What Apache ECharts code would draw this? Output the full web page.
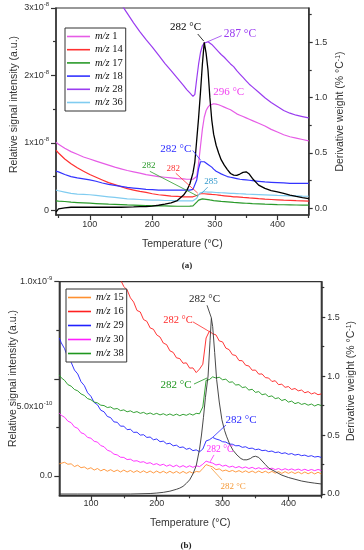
<!DOCTYPE html>
<html><head><meta charset="utf-8">
<script src="https://cdn.jsdelivr.net/npm/echarts@6/dist/echarts.min.js"></script>
<style>html,body{margin:0;padding:0;background:#fff}#c{width:364px;height:550px}</style>
</head><body><div id="c"></div><script>
// ---------- panel (a): ion currents in units of 1e-8, DTG in % per °C ----------
const tempA = [46,50,60,70,80,90,100,110,120,130,140,150,160,170,180,190,200,210,220,230,240,250,255,260,265,268,271,274,277,280,283,286,289,292,295,298,302,306,310,315,320,325,330,335,340,345,350,355,360,370,380,390,400,410,420,430,440,450];
const mz1  = [1.01,0.98,0.92,0.87,0.83,0.79,0.76,0.73,0.70,0.67,0.64,0.615,0.59,0.57,0.55,0.53,0.515,0.50,0.49,0.48,0.47,0.465,0.46,0.46,0.46,0.46,0.50,0.70,0.95,1.20,1.38,1.48,1.53,1.56,1.575,1.58,1.575,1.565,1.55,1.53,1.51,1.49,1.46,1.43,1.41,1.39,1.37,1.35,1.33,1.29,1.25,1.20,1.16,1.12,1.09,1.07,1.05,1.03];
const mz14 = [0.89,0.85,0.76,0.69,0.63,0.58,0.53,0.49,0.45,0.41,0.38,0.35,0.32,0.30,0.28,0.265,0.245,0.23,0.22,0.21,0.205,0.20,0.20,0.20,0.20,0.205,0.22,0.24,0.245,0.245,0.245,0.24,0.24,0.235,0.235,0.23,0.23,0.225,0.22,0.215,0.21,0.205,0.20,0.198,0.195,0.19,0.187,0.183,0.18,0.172,0.165,0.16,0.155,0.15,0.147,0.143,0.14,0.137];
const mz17 = [0.14,0.135,0.13,0.12,0.115,0.11,0.105,0.10,0.095,0.09,0.088,0.085,0.08,0.077,0.074,0.07,0.068,0.066,0.064,0.062,0.06,0.06,0.06,0.062,0.065,0.075,0.12,0.15,0.165,0.17,0.168,0.163,0.158,0.153,0.148,0.144,0.14,0.136,0.132,0.128,0.124,0.12,0.116,0.113,0.11,0.107,0.104,0.101,0.098,0.094,0.09,0.087,0.084,0.082,0.08,0.078,0.077,0.076];
const mz18 = [0.58,0.57,0.53,0.50,0.48,0.465,0.45,0.43,0.405,0.385,0.37,0.355,0.34,0.33,0.32,0.31,0.305,0.30,0.30,0.30,0.30,0.30,0.30,0.30,0.31,0.33,0.45,0.62,0.72,0.74,0.72,0.70,0.68,0.66,0.64,0.61,0.58,0.56,0.54,0.52,0.50,0.49,0.48,0.47,0.46,0.455,0.45,0.445,0.44,0.43,0.42,0.415,0.41,0.405,0.40,0.40,0.40,0.40];
const mz28 = [6.0,5.7,5.1,4.6,4.25,3.95,3.75,3.6,3.48,3.35,3.2,3.06,2.92,2.78,2.65,2.53,2.42,2.30,2.18,2.07,1.96,1.85,1.79,1.74,1.69,1.72,1.95,2.17,2.34,2.44,2.48,2.50,2.50,2.48,2.46,2.43,2.39,2.35,2.31,2.27,2.22,2.17,2.13,2.07,2.02,1.97,1.92,1.87,1.83,1.75,1.67,1.60,1.54,1.48,1.44,1.41,1.39,1.37];
const mz36 = [0.30,0.29,0.27,0.25,0.24,0.235,0.23,0.22,0.21,0.20,0.19,0.18,0.17,0.165,0.16,0.155,0.15,0.15,0.145,0.145,0.14,0.14,0.14,0.14,0.14,0.145,0.18,0.23,0.26,0.27,0.275,0.275,0.27,0.27,0.268,0.266,0.264,0.262,0.26,0.258,0.255,0.252,0.25,0.248,0.245,0.243,0.24,0.238,0.236,0.232,0.228,0.224,0.22,0.218,0.215,0.213,0.21,0.208];
const dtgA = [-0.035,-0.005,0.005,0.01,0.01,0.01,0.01,0.01,0.01,0.01,0.01,0.01,0.012,0.013,0.015,0.017,0.02,0.028,0.038,0.05,0.07,0.12,0.16,0.22,0.32,0.42,0.62,0.82,1.05,1.30,1.50,1.40,1.25,1.00,0.80,0.67,0.57,0.50,0.44,0.39,0.35,0.315,0.30,0.298,0.31,0.325,0.33,0.31,0.27,0.21,0.18,0.16,0.148,0.135,0.12,0.108,0.097,0.088];

// ---------- panel (b): ion currents in units of 1e-10, DTG in % per °C ----------
const tempB = [52,55,60,65,70,75,80,85,90,95,100,105,110,115,120,125,130,135,140,145,150,155,160,165,170,175,180,185,190,195,200,205,210,215,220,225,230,235,240,245,250,255,260,265,270,275,280,285,290,295,300,305,310,315,320,325,330,335,340,345,350,355,360,365,370,375,380,385,390,395,400,405,410,415,420,425,430,435,440,445,450];
const mz15 = [0.62,0.58,0.70,0.60,0.62,0.48,0.55,0.42,0.46,0.35,0.42,0.30,0.38,0.26,0.34,0.24,0.32,0.22,0.30,0.20,0.30,0.20,0.28,0.18,0.27,0.17,0.26,0.16,0.25,0.15,0.25,0.15,0.24,0.14,0.24,0.14,0.23,0.13,0.23,0.13,0.22,0.14,0.23,0.20,0.38,0.58,0.52,0.46,0.32,0.36,0.25,0.30,0.22,0.28,0.20,0.27,0.18,0.26,0.17,0.25,0.16,0.25,0.16,0.24,0.15,0.23,0.14,0.22,0.13,0.22,0.13,0.21,0.12,0.20,0.11,0.20,0.11,0.19,0.10,0.19,0.10];
const mz16 = [17.5,17.0,16.3,15.7,15.1,14.6,14.1,13.6,13.2,12.8,12.4,12.1,11.8,11.5,11.5,11.2,10.95,10.7,10.4,10.1,9.75,9.58,9.17,8.95,8.52,8.44,8.05,7.96,7.62,7.55,7.26,7.15,6.84,6.76,6.44,6.36,6.08,6.04,5.80,5.82,5.55,5.56,5.32,5.50,5.75,7.10,7.45,7.32,7.26,6.95,6.90,6.58,6.50,6.24,6.20,5.94,5.93,5.70,5.66,5.44,5.45,5.24,5.25,5.06,5.04,4.86,4.90,4.70,4.72,4.56,4.60,4.45,4.50,4.38,4.42,4.28,4.34,4.22,4.28,4.18,4.22];
const mz29 = [7.10,6.85,6.55,6.10,5.85,5.45,5.25,4.85,4.65,4.28,4.10,3.78,3.66,3.38,3.30,3.06,3.00,2.78,2.76,2.56,2.56,2.38,2.40,2.24,2.25,2.10,2.12,1.98,2.00,1.86,1.90,1.76,1.79,1.65,1.68,1.55,1.58,1.46,1.49,1.37,1.42,1.30,1.34,1.24,1.38,1.80,1.86,1.98,1.90,1.85,1.76,1.74,1.64,1.63,1.55,1.56,1.47,1.50,1.41,1.43,1.35,1.38,1.30,1.32,1.25,1.28,1.20,1.23,1.15,1.19,1.11,1.15,1.07,1.11,1.04,1.07,1.00,1.04,0.97,1.00,0.95];
const mz30 = [3.23,3.12,3.02,2.82,2.74,2.52,2.45,2.22,2.16,1.98,1.94,1.78,1.74,1.56,1.50,1.32,1.26,1.12,1.08,0.96,0.95,0.84,0.86,0.76,0.78,0.70,0.73,0.64,0.68,0.58,0.63,0.54,0.60,0.50,0.57,0.47,0.55,0.45,0.53,0.44,0.52,0.44,0.52,0.48,0.60,0.76,0.70,0.66,0.56,0.60,0.50,0.55,0.45,0.50,0.42,0.48,0.40,0.46,0.38,0.44,0.36,0.42,0.35,0.41,0.33,0.40,0.32,0.38,0.30,0.37,0.30,0.36,0.29,0.35,0.28,0.34,0.27,0.33,0.27,0.33,0.28];
const mz38 = [5.20,5.05,4.92,4.70,4.62,4.45,4.38,4.22,4.14,3.98,3.92,3.80,3.76,3.64,3.62,3.52,3.55,3.44,3.47,3.36,3.40,3.30,3.35,3.26,3.31,3.22,3.27,3.18,3.24,3.16,3.22,3.14,3.20,3.12,3.19,3.11,3.18,3.10,3.17,3.12,3.20,3.13,3.22,3.20,3.55,4.92,4.96,5.10,5.04,5.08,4.95,4.98,4.82,4.84,4.68,4.70,4.55,4.58,4.42,4.46,4.30,4.34,4.18,4.22,4.08,4.12,3.98,4.02,3.88,3.94,3.80,3.85,3.72,3.78,3.68,3.73,3.64,3.70,3.60,3.68,3.62];
const dtgTempB = [52,80,120,160,190,200,210,220,230,235,240,245,250,255,260,265,268,271,274,278,281,283,285,288,291,295,299,303,306,311,316,322,328,332,337,342,346,350,355,360,365,370,380,390,400,410,420,430,440,450];
const dtgB = [0,0,0,0,0.004,0.008,0.014,0.024,0.04,0.05,0.065,0.09,0.12,0.17,0.24,0.38,0.50,0.65,0.82,1.00,1.30,1.49,1.42,1.20,0.97,0.78,0.63,0.54,0.49,0.42,0.37,0.33,0.30,0.29,0.29,0.30,0.315,0.32,0.31,0.28,0.25,0.22,0.19,0.16,0.14,0.125,0.11,0.10,0.092,0.085];

// ---------- ticks and tick labels ----------
const xMajor = [100,200,300,400];
const xMinorA = [50,150,250,350,450];
const xMinorB = [150,250,350,450];
const yLeftMajorA = [0,1,2,3];
const yLeftMinorA = [0.5,1.5,2.5];
const yLeftLabelsA = ['0','1x10{s|-8}','2x10{s|-8}','3x10{s|-8}'];
const yLeftMajorB = [0,5,10];
const yLeftMinorB = [2.5,7.5];
// the 5.0x10^-10 label sits below its tick in the original figure
const yLeftLabelsB = ['0.0','{g| }\n5.0x10{s|-10}','1.0x10{s|-9}'];
const yRightMajor = [0,0.5,1.0,1.5];
const yRightMinor = [0.25,0.75,1.25,1.75];

// ---------- annotations: text position and arrow from/to in data units ----------
const notesA = [
  {s:'dtgA', text:'282 °C', color:'#000000', size:11, at:[253,1.64], from:[272.6,1.575], to:[282.2,1.511]},
  {s:'m/z 28', text:'287 °C', color:'#9a3cf0', size:11.5, at:[340,2.61], from:[311,2.59], to:[288.5,2.50]},
  {s:'m/z 1', text:'296 °C', color:'#f040f0', size:11, at:[322,1.75]},
  {s:'m/z 18', text:'282 °C', color:'#2a2aff', size:11, at:[237.5,0.91], from:[264.6,0.887], to:[277.4,0.74]},
  {s:'m/z 17', text:'282', color:'#2a9a2a', size:9, at:[194.4,0.656], from:[196,0.578], to:[272.6,0.21]},
  {s:'m/z 14', text:'282', color:'#ff3030', size:9, at:[233.5,0.618], from:[237.5,0.549], to:[272.6,0.254]},
  {s:'m/z 36', text:'285', color:'#3399cc', size:9, at:[294,0.42], from:[288.5,0.343], to:[279,0.254]}
];
const notesB = [
  {s:'dtgB', text:'282 °C', color:'#222222', size:11, at:[272.6,1.65], from:[276.4,1.60], to:[283.2,1.49]},
  {s:'m/z 16', text:'282 °C', color:'#ff2a2a', size:10.5, at:[232.3,8.03], from:[255.1,7.93], to:[281,7.41]},
  {s:'m/z 38', text:'282 °C', color:'#1e961e', size:11, at:[229.3,4.68], from:[256.6,4.73], to:[276.4,5.04]},
  {s:'m/z 29', text:'282 °C', color:'#2a2aff', size:11, at:[328,2.88], from:[305.2,2.62], to:[285.5,2.0]},
  {s:'m/z 30', text:'282 °C', color:'#ff2aff', size:9.5, at:[296,1.34], from:[287,1.08], to:[281,0.72]},
  {s:'m/z 15', text:'282 °C', color:'#f59a3a', size:9, at:[316,-0.54], from:[299.2,-0.21], to:[282.5,0.41]}
];

const SANS = 'Liberation Sans', SERIF = 'Liberation Serif', AX = '#333333';
const pair = (t, v) => t.map((x, i) => [x, v[i]]);

function marks(key, notes) {
  const n = notes.filter(d => d.s === key);
  if (!n.length) return {};
  return {
    markPoint: {
      symbol: 'circle', symbolSize: 0, silent: true, animation: false,
      data: n.map(d => ({name: d.text, coord: d.at,
        label: {show: true, position: 'inside', formatter: d.text, color: d.color, fontSize: d.size, fontFamily: SERIF}}))
    },
    markLine: {
      symbol: ['none', 'arrow'], symbolSize: [0, 5], silent: true, animation: false,
      label: {show: false}, lineStyle: {type: 'solid', width: 0.8},
      data: n.filter(d => d.from).map(d => [
        {coord: d.from, lineStyle: {color: d.color, type: 'solid', width: 0.8}, itemStyle: {color: d.color}},
        {coord: d.to, lineStyle: {color: d.color}, itemStyle: {color: d.color}}])
    }
  };
}

function ion(name, t, v, color, xi, yi, width, notes) {
  return Object.assign({
    name, type: 'line', xAxisIndex: xi, yAxisIndex: yi, data: pair(t, v),
    symbol: 'none', showSymbol: false, clip: true,
    lineStyle: {color, width}, itemStyle: {color}, emphasis: {disabled: true}
  }, marks(name, notes));
}

const tickStyle = {color: AX, width: 1.2};
function xMain(grid, min, max, gap, margin) {
  return {gridIndex: grid, type: 'value', min, max, position: 'bottom',
    axisLine: {show: true, onZero: false, lineStyle: {color: AX, width: 1.5}},
    axisTick: {show: true, length: 5, customValues: xMajor, lineStyle: tickStyle},
    axisLabel: {customValues: xMajor, fontSize: 9, margin, color: AX, fontFamily: SANS},
    splitLine: {show: false},
    name: 'Temperature (°C)', nameLocation: 'middle', nameGap: gap, nameMoveOverlap: false,
    nameTextStyle: {fontSize: 10.5, fontFamily: SANS, color: AX}};
}
function xMinor(grid, min, max, vals) {
  return {gridIndex: grid, type: 'value', min, max, position: 'bottom',
    axisLine: {show: false, onZero: false}, axisTick: {show: true, length: 3, customValues: vals, lineStyle: tickStyle},
    axisLabel: {show: false}, splitLine: {show: false}};
}
function yLeft(grid, min, max, major, labels, name, gap, shift) {
  return {gridIndex: grid, type: 'value', min, max, position: 'left',
    axisLine: {show: true, onZero: false, lineStyle: {color: AX, width: 1.5}},
    axisTick: {show: true, length: 5, customValues: major, lineStyle: tickStyle},
    axisLabel: {customValues: major, fontSize: 9, lineHeight: 13, margin: 7, color: AX, fontFamily: SANS,
      formatter: v => labels[major.indexOf(v)] || '',
      rich: {s: {fontSize: 6, lineHeight: 6, verticalAlign: 'top', fontFamily: SANS, color: AX},
             g: {fontSize: 6, lineHeight: 56, height: 56}}},
    splitLine: {show: false},
    name, nameLocation: 'middle', nameGap: gap, nameRotate: 90, nameMoveOverlap: false,
    nameTextStyle: {fontSize: 10.5, fontFamily: SANS, color: AX, padding: [0, 0, 0, shift]}};
}
function yRight(grid, min, max, gap, shift) {
  return {gridIndex: grid, type: 'value', min, max, position: 'right',
    axisLine: {show: true, onZero: false, lineStyle: {color: AX, width: 1.5}},
    axisTick: {show: true, length: 4, customValues: yRightMajor, lineStyle: tickStyle},
    axisLabel: {customValues: yRightMajor, fontSize: 9, margin: 6, color: AX, fontFamily: SANS,
      formatter: v => v.toFixed(1)},
    splitLine: {show: false},
    name: 'Derivative weight (% °C{s|-1})', nameLocation: 'middle', nameGap: gap, nameRotate: 90, nameMoveOverlap: false,
    nameTextStyle: {fontSize: 10.5, fontFamily: SANS, color: AX, padding: [0, 0, 0, shift],
      rich: {s: {fontSize: 7, lineHeight: 7, verticalAlign: 'top', fontFamily: SANS, color: AX}}}};
}
function yMinor(grid, min, max, pos, vals) {
  return {gridIndex: grid, type: 'value', min, max, position: pos,
    axisLine: {show: false, onZero: false}, axisTick: {show: true, length: 3, customValues: vals, lineStyle: tickStyle},
    axisLabel: {show: false}, splitLine: {show: false}};
}
function legend(left, top, names, itemH, gap) {
  return {data: names, orient: 'vertical', left, top, itemWidth: 23, itemHeight: itemH, itemGap: gap,
    padding: [3, 3, 3, 2], borderColor: '#333', borderWidth: 1, backgroundColor: '#fff',
    selectedMode: false, icon: 'path://M0,5 L23,5 L23,6.6 L0,6.6 Z',
    formatter: n => '{i|m/z} ' + n.split(' ')[1],
    textStyle: {fontSize: 10.5, fontFamily: SERIF, color: '#111',
      rich: {i: {fontStyle: 'italic', fontSize: 10.5, fontFamily: SERIF, color: '#111'}}}};
}

const namesA = ['m/z 1','m/z 14','m/z 17','m/z 18','m/z 28','m/z 36'];
const namesB = ['m/z 15','m/z 16','m/z 29','m/z 30','m/z 38'];

const option = {
  animation: false,
  backgroundColor: '#fff',
  title: [
    {text: '(a)', left: 182, top: 256, textAlign: 'center', textStyle: {fontSize: 9, fontWeight: 'bold', fontFamily: SERIF, color: '#222'}},
    {text: '(b)', left: 181, top: 536, textAlign: 'center', textStyle: {fontSize: 9, fontWeight: 'bold', fontFamily: SERIF, color: '#222'}}
  ],
  grid: [
    {left: 56, top: 8, width: 252.7, height: 207, show: true, borderColor: AX, borderWidth: 1.2, outerBoundsMode: 'none', containLabel: false},
    {left: 59.3, top: 281.7, width: 262, height: 213.6, show: true, borderColor: AX, borderWidth: 1.2, outerBoundsMode: 'none', containLabel: false}
  ],
  legend: [legend(65, 28, namesA, 11, 2.2), legend(66, 289, namesB, 12, 3)],
  xAxis: [xMain(0, 46, 450, 24, 5), xMinor(0, 46, 450, xMinorA), xMain(1, 52, 450, 22, 4), xMinor(1, 52, 450, xMinorB)],
  yAxis: [
    yLeft(0, -0.07, 3, yLeftMajorA, yLeftLabelsA, 'Relative signal intensity (a.u.)', 36, 14),
    yRight(0, -0.06, 1.81, 26, 0),
    yMinor(0, -0.07, 3, 'left', yLeftMinorA),
    yMinor(0, -0.06, 1.81, 'right', yRightMinor),
    yLeft(1, -1.0, 10, yLeftMajorB, yLeftLabelsB, 'Relative signal intensity (a.u.)', 41, 20),
    yRight(1, -0.011, 1.80, 24, 15),
    yMinor(1, -1.0, 10, 'left', yLeftMinorB),
    yMinor(1, -0.011, 1.80, 'right', yRightMinor)
  ],
  series: [
    ion('m/z 1', tempA, mz1, '#e65ce6', 0, 0, 1.2, notesA),
    ion('m/z 14', tempA, mz14, '#ff3030', 0, 0, 1.2, notesA),
    ion('m/z 17', tempA, mz17, '#2a9a2a', 0, 0, 1.2, notesA),
    ion('m/z 18', tempA, mz18, '#3333ff', 0, 0, 1.2, notesA),
    ion('m/z 28', tempA, mz28, '#9a3cf0', 0, 0, 1.2, notesA),
    ion('m/z 36', tempA, mz36, '#80ccf0', 0, 0, 1.2, notesA),
    ion('dtgA', tempA, dtgA, '#000000', 0, 1, 1.3, notesA),
    ion('m/z 15', tempB, mz15, '#ff9030', 2, 4, 0.9, notesB),
    ion('m/z 16', tempB, mz16, '#ff2020', 2, 4, 0.9, notesB),
    ion('m/z 29', tempB, mz29, '#2020ff', 2, 4, 0.9, notesB),
    ion('m/z 30', tempB, mz30, '#ff20ff', 2, 4, 0.9, notesB),
    ion('m/z 38', tempB, mz38, '#1e961e', 2, 4, 0.9, notesB),
    ion('dtgB', dtgTempB, dtgB, '#333333', 2, 5, 0.9, notesB)
  ]
};
const chart = echarts.init(document.getElementById('c'), null, {renderer: 'canvas'});
chart.setOption(option);
</script></body></html>
